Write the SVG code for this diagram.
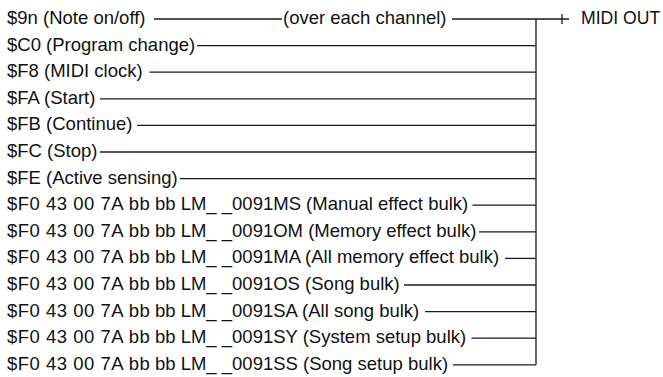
<svg xmlns="http://www.w3.org/2000/svg" width="663" height="377" viewBox="0 0 663 377">
<style>
text{font-family:"Liberation Sans",Arial,sans-serif;font-size:18.5px;fill:#111}
.p{letter-spacing:0.5px}
.c{stroke:#1a1a1a;stroke-width:1.3;fill:none}
</style>
<rect width="663" height="377" fill="#fff"/>
<g id="labels">
<g id="n1"><text x="7" y="24">$9n (Note on/off)</text><text x="283" y="24">(over each channel)</text></g>
<g id="n2"><text x="7" y="50.6">$C0 (Program change)</text></g>
<g id="n3"><text x="7" y="77.2">$F8 (MIDI clock)</text></g>
<g id="n4"><text x="7" y="103.8">$FA (Start)</text></g>
<g id="n5"><text x="7" y="130.4">$FB (Continue)</text></g>
<g id="n6"><text x="7" y="157">$FC (Stop)</text></g>
<g id="n7"><text x="7" y="183.6">$FE (Active sensing)</text></g>
<g id="n8"><text x="7" y="210.2"><tspan class="p">$F0 43 00 7A b</tspan>b bb LM_ _0091MS (Manual effect bulk)</text></g>
<g id="n9"><text x="7" y="236.8"><tspan class="p">$F0 43 00 7A b</tspan>b bb LM_ _0091OM (Memory effect bulk)</text></g>
<g id="n10"><text x="7" y="263.4"><tspan class="p">$F0 43 00 7A b</tspan>b bb LM_ _0091MA (All memory effect bulk)</text></g>
<g id="n11"><text x="7" y="290"><tspan class="p">$F0 43 00 7A b</tspan>b bb LM_ _0091OS (Song bulk)</text></g>
<g id="n12"><text x="7" y="316.6"><tspan class="p">$F0 43 00 7A b</tspan>b bb LM_ _0091SA (All song bulk)</text></g>
<g id="n13"><text x="7" y="343.2"><tspan class="p">$F0 43 00 7A b</tspan>b bb LM_ _0091SY (System setup bulk)</text></g>
<g id="n14"><text x="7" y="369.8"><tspan class="p">$F0 43 00 7A b</tspan>b bb LM_ _0091SS (Song setup bulk)</text></g>
<g id="midi-out"><text x="581" y="24" style="font-size:17.6px">MIDI OUT</text></g>
</g>
<g id="connectors" class="c">
<path d="M154 19H282M452 19H569M562 14V24"/>
<path d="M536 19V364.8"/>
<path d="M197 45.6H536"/>
<path d="M149.5 72.2H536"/>
<path d="M100 98.8H536"/>
<path d="M137 125.4H536"/>
<path d="M100 152H536"/>
<path d="M180 178.6H536"/>
<path d="M472.5 205.2H536"/>
<path d="M479 231.8H536"/>
<path d="M505 258.4H536"/>
<path d="M404 285H536"/>
<path d="M425 311.6H536"/>
<path d="M471.5 338.2H536"/>
<path d="M453 364.8H536"/>
</g>
</svg>
